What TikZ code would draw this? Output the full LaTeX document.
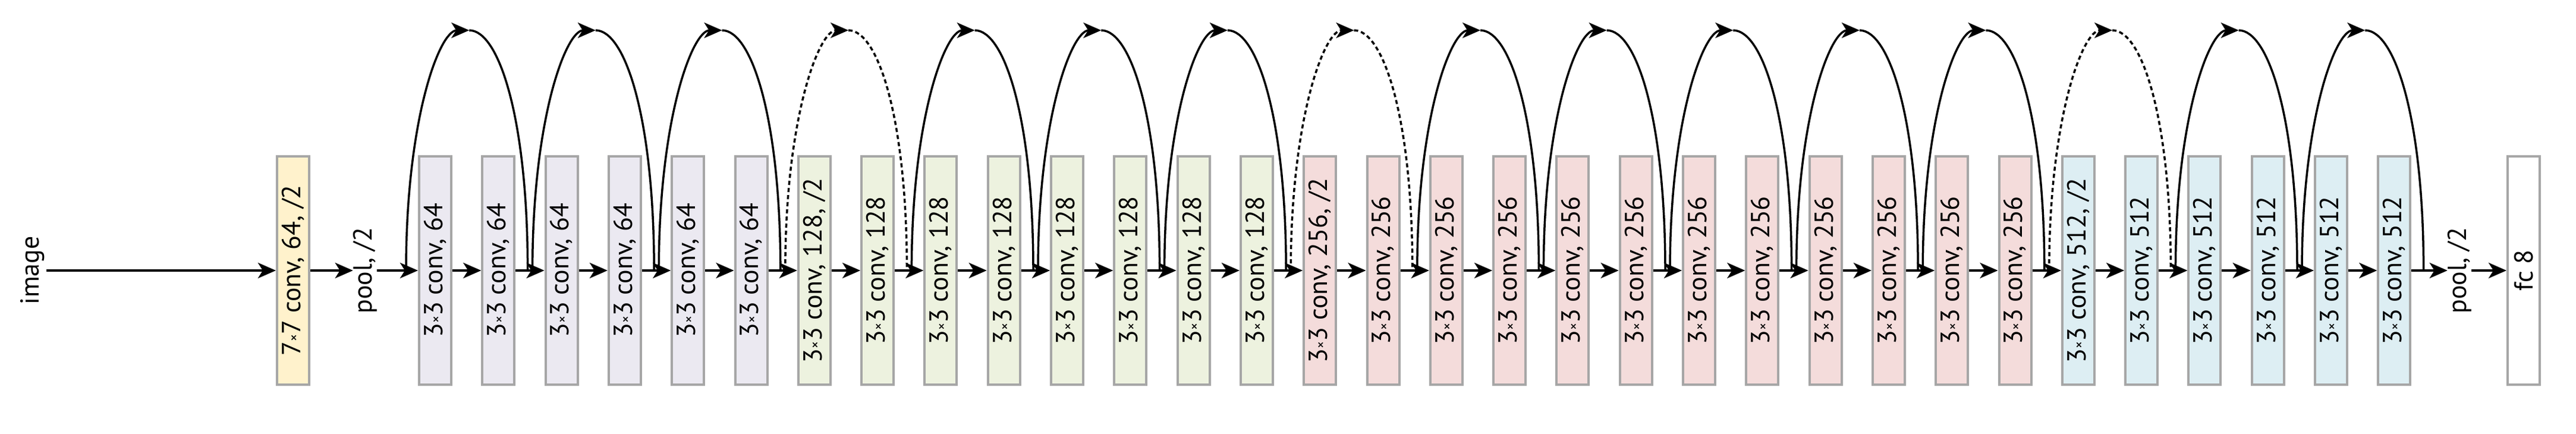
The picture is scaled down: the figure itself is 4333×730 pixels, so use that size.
\documentclass[tikz,border=0pt]{standalone}
\usepackage{fontspec}
\setmainfont{PT Sans}
\usetikzlibrary{arrows.meta}
\definecolor{c77}{HTML}{FFF2CC}
\definecolor{c64}{HTML}{EBE9F1}
\definecolor{c128}{HTML}{EDF2DF}
\definecolor{c256}{HTML}{F4DCDB}
\definecolor{c512}{HTML}{DDEEF3}
\definecolor{bd}{HTML}{A6A6A6}
\tikzset{
  box/.style={draw=bd,line width=4pt,rotate=90,minimum width=384pt,minimum height=54pt,inner sep=0pt,font=\fontsize{44}{50}\selectfont},
  lbl/.style={rotate=90,inner sep=0pt,font=\fontsize{44}{50}\selectfont},
  arr/.style={line width=4pt,-{Stealth[length=30pt,width=26pt,inset=8pt]}},
  skp/.style={line width=3.5pt},
  skpa/.style={line width=3.5pt,-{Stealth[length=30pt,width=26pt,inset=8pt]}},
  dsh/.style={dash pattern=on 7pt off 5pt}
}
\newcommand{\tms}{3{\fontsize{24}{24}\selectfont\raisebox{3pt}{×}}3}
\begin{document}
\begin{tikzpicture}[x=1pt,y=1pt]
\useasboundingbox (0,0) rectangle (4333,730);
\node[lbl] (img) at (55,275) {image};
\node[box,fill=c77] (c7) at (493,275) {7{\fontsize{24}{24}\selectfont\raisebox{3pt}{×}}7 conv, 64, /2};
\node[lbl] (p1) at (614,275) {pool, /2};
\draw[arr] (78,275) -- (c7.north);
\draw[arr] (c7.south) -- (p1.north);
\foreach \k in {0,...,31}{
  \pgfmathsetmacro\cx{732+106.3*\k}
  \ifnum\k<6 \gdef\col{c64}\gdef\lab{64}\else\ifnum\k<14 \gdef\col{c128}\gdef\lab{128}\else\ifnum\k<26 \gdef\col{c256}\gdef\lab{256}\else\gdef\col{c512}\gdef\lab{512}\fi\fi\fi
  \ifnum\k=6 \gdef\lab{128, /2}\fi
  \ifnum\k=14 \gdef\lab{256, /2}\fi
  \ifnum\k=26 \gdef\lab{512, /2}\fi
  \node[box,fill=\col] (b\k) at (\cx,275) {\tms\ conv, \lab};
}
\draw[arr] (p1.south) -- (b0.north);
\foreach \k in {0,...,30}{
  \pgfmathtruncatemacro\j{\k+1}
  \draw[arr] (b\k.south) -- (b\j.north);
}
\node[lbl] (p2) at (4137,275) {pool, /2};
\node[box,fill=white] (fc) at (4245,275) {fc 8};
\draw[arr] (b31.south) -- (p2.north);
\draw[arr] (p2.south) -- (fc.north);
\foreach \j in {0,...,15}{
  \pgfmathsetmacro\sx{732+106.3*2*\j-49}
  \pgfmathsetmacro\ex{732+106.3*(2*\j+2)-57}
  \pgfmathsetmacro\px{(\sx+\ex)/2+4}
  \ifnum\j=3 \gdef\ds{dsh}\else\ifnum\j=7 \gdef\ds{dsh}\else\ifnum\j=13 \gdef\ds{dsh}\else\gdef\ds{solid}\fi\fi\fi
  \coordinate (s\j) at (\sx,275);
  \coordinate (t\j) at (\px,679);
  \coordinate (e\j) at (\ex,275);
  \draw[skpa,\ds] (s\j) .. controls (\sx,530) and (\px-50,679) .. (t\j);
  \draw[skp,\ds] (t\j) .. controls (\px+50,679) and (\ex,530) .. (e\j);
}
\end{tikzpicture}
\end{document}
